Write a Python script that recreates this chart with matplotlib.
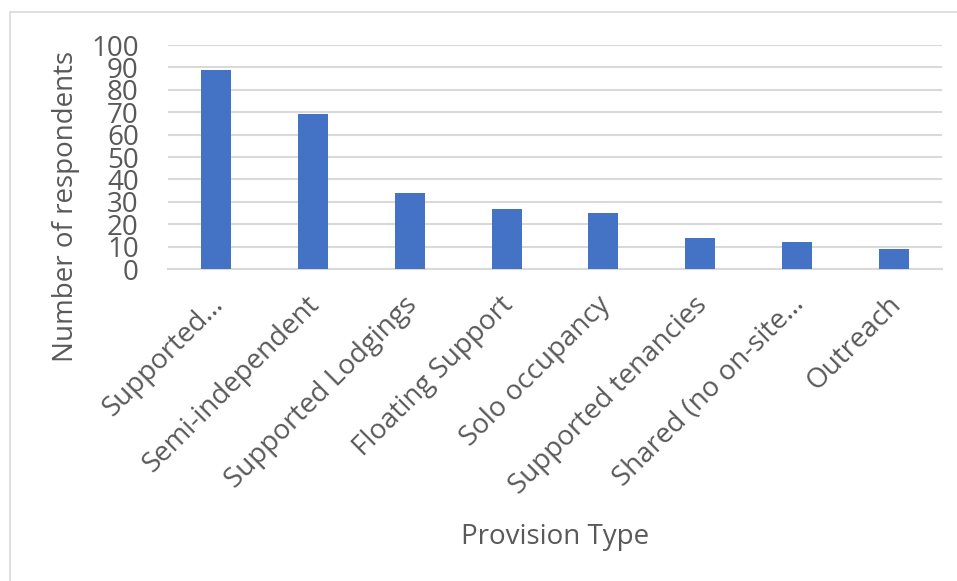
import matplotlib
matplotlib.use("Agg")
import matplotlib.pyplot as plt
from matplotlib.patches import Rectangle
from matplotlib.transforms import ScaledTranslation

categories = [
    "Supported…",
    "Semi-independent",
    "Supported Lodgings",
    "Floating Support",
    "Solo occupancy",
    "Supported tenancies",
    "Shared (no on-site…",
    "Outreach",
]
respondents = [89, 69, 34, 27, 25, 14, 12, 9]
y_ticks = [0, 10, 20, 30, 40, 50, 60, 70, 80, 90, 100]

plt.rcParams["font.family"] = ["Open Sans", "DejaVu Sans"]
text_color = "#595959"
grid_color = "#d9d9d9"
bar_color = "#4472c4"
font_size = 20

W, H = 957, 581
fig = plt.figure(figsize=(W / 100, H / 100), dpi=100)
ax = fig.add_axes([168 / W, 1 - 269 / H, (942 - 168) / W, (269 - 45) / H])

x = list(range(len(categories)))
ax.bar(x, respondents, width=0.31, color=bar_color, zorder=3)

ax.set_xlim(-0.5, len(categories) - 0.5)
ax.set_ylim(0, 100)
ax.set_yticks(y_ticks)
ax.set_yticklabels([str(v) for v in y_ticks], fontsize=font_size, color=text_color)
ax.set_xticks(x)
ax.set_xticklabels(categories, fontsize=font_size, color=text_color,
                   rotation=45, ha="right", rotation_mode="anchor")
ax.tick_params(axis="both", length=0)
ax.tick_params(axis="y", pad=21)
ax.tick_params(axis="x", pad=12)

# nudge the slanted category labels slightly left and down
shift = ScaledTranslation(-7 / 100, -5 / 100, fig.dpi_scale_trans)
for lbl in ax.get_xticklabels():
    lbl.set_transform(lbl.get_transform() + shift)

ax.grid(axis="y", color=grid_color, linewidth=1.5, zorder=0)
for side in ("top", "right", "left"):
    ax.spines[side].set_visible(False)
ax.spines["bottom"].set_color(grid_color)
ax.spines["bottom"].set_linewidth(1.5)

ax.set_ylabel("Number of respondents", fontsize=font_size, color=text_color)
ax.yaxis.set_label_coords((80 - 168) / (942 - 168), 0.28)
fig.text(555 / W, 1 - 537 / H, "Provision Type", fontsize=font_size,
         color=text_color, ha="center", va="center")

# outer frame of the chart area
fig.patches.append(Rectangle((10 / W, -0.1), 1.2, 1 - 12 / H + 0.1,
                             transform=fig.transFigure, fill=False,
                             edgecolor="#d9d9d9", linewidth=1.2))

fig.savefig("out.png", dpi=100)
